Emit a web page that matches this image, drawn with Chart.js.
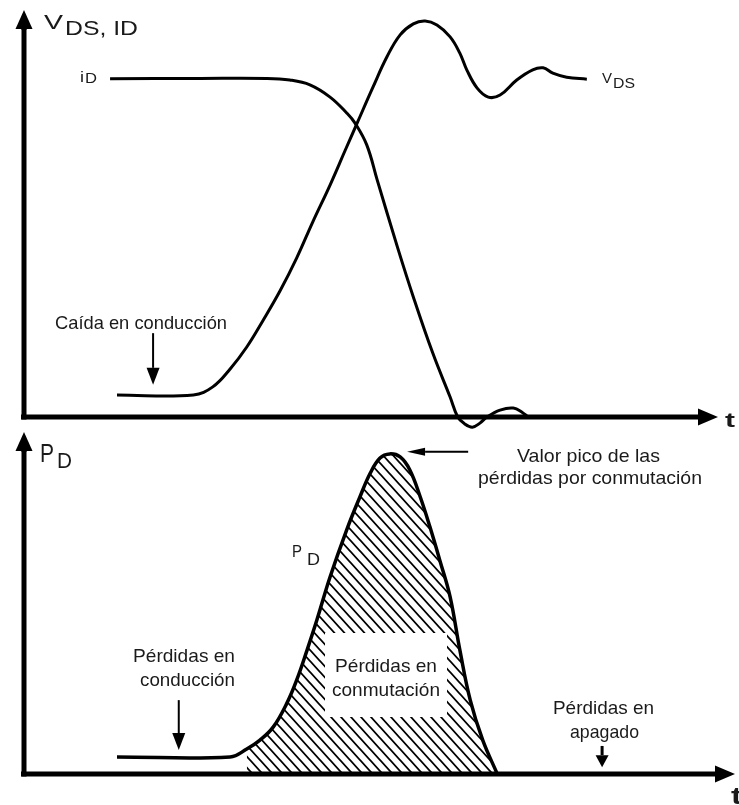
<!DOCTYPE html>
<html><head><meta charset="utf-8">
<script src="https://cdn.jsdelivr.net/npm/chart.js@4.4.1/dist/chart.umd.min.js"></script>
<style>
html,body{margin:0;padding:0;background:#fff;width:739px;height:805px;overflow:hidden}
#c1{position:absolute;left:0;top:0}
#c2{position:absolute;left:0;top:430px}
</style></head>
<body>
<canvas id="c1" width="739" height="430"></canvas>
<canvas id="c2" width="739" height="375"></canvas>
<script>
// ---------- data (time in arbitrary units, amplitudes in % of panel height) ----------
const idTime  = [12.4,25.4,35.0,38.3,41.2,44.1,46.5,47.7,49.4,50.9,53.8,56.1,58.9,61.4,62.5,63.5,64.6,65.7,66.7,68.6,70.5,71.9,72.5];
const idValue = [83.1,83.2,83.2,82.8,81.6,78.6,74.7,72.2,66.8,58.2,41.8,29.5,15.7,4.9,0,-1.7,-2.5,-1.5,0,1.7,2.2,1.0,0.2];

const vdsTime  = [13.4,24.4,27.2,29.7,32.1,34.4,36.9,39.3,41.6,44.1,46.3,48.0,50.3,52.3,54.2,56.1,57.8,59.5,61.4,62.8,63.8,65.3,66.9,68.6,71.0,73.3,74.8,76.2,78.2,81.1];
const vdsValue = [5.4,5.4,7.4,11.8,17.2,23.6,31.0,39.1,47.9,57.0,65.6,72.2,81.1,88.5,93.9,96.6,97.3,96.3,93.4,89.4,85.3,80.8,78.6,79.1,82.8,85.3,85.8,84.5,83.5,83.0];

const pdTime  = [13.4,29.7,32.1,34.0,35.9,37.9,39.3,40.8,42.2,44.1,46.5,48.4,49.9,51.3,52.7,54.2,55.6,57.1,58.5,59.9,61.4,62.8,64.3,66.1,68.2];
const pdValue = [5.0,5.0,7.3,9.9,13.7,20.8,27.5,36.3,45.0,57.6,71.4,81.0,88.0,92.4,93.6,92.7,88.9,81.0,72.2,62.6,51.8,36.3,21.6,9.9,0];

const switchStart = 32.1;   // start of the switching-loss (hatched) interval

const pts = (xs, ys) => xs.map((x, i) => ({x, y: ys[i]}));
const idData = pts(idTime, idValue);
const vdsData = pts(vdsTime, vdsValue);
const pdData = pts(pdTime, pdValue);
const pdSwitch = pdData.filter(p => p.x >= switchStart);

// ---------- helpers ----------
const FONT = '"Liberation Sans", Arial, sans-serif';
const TXT = '#1a1a1a';
function fitText(ctx, s, x, y, size, w, bold) {
  ctx.save();
  ctx.font = (bold ? 'bold ' : '') + size + 'px ' + FONT;
  ctx.textAlign = 'left'; ctx.textBaseline = 'alphabetic';
  ctx.fillStyle = TXT;
  const m = ctx.measureText(s).width;
  ctx.translate(x, y);
  ctx.scale(w / m, 1);
  ctx.fillText(s, 0, 0);
  ctx.restore();
}
function arrow(ctx, x1, y1, x2, y2, lw, hl, hw) {
  const a = Math.atan2(y2 - y1, x2 - x1);
  const bx = x2 - hl * Math.cos(a), by = y2 - hl * Math.sin(a);
  ctx.save();
  ctx.strokeStyle = '#000'; ctx.fillStyle = '#000'; ctx.lineWidth = lw; ctx.lineCap = 'butt';
  ctx.beginPath(); ctx.moveTo(x1, y1); ctx.lineTo(bx, by); ctx.stroke();
  ctx.beginPath();
  ctx.moveTo(x2, y2);
  ctx.lineTo(bx + hw / 2 * Math.sin(a), by - hw / 2 * Math.cos(a));
  ctx.lineTo(bx - hw / 2 * Math.sin(a), by + hw / 2 * Math.cos(a));
  ctx.closePath(); ctx.fill();
  ctx.restore();
}
function hatch() {
  const W = 10, H = 11;
  const c = document.createElement('canvas');
  c.width = W; c.height = H;
  const g = c.getContext('2d');
  g.strokeStyle = '#000'; g.lineWidth = 1.8;
  g.beginPath();
  g.moveTo(0, 0); g.lineTo(W, H);
  g.moveTo(-2, H - 2.2); g.lineTo(2, H + 2.2);
  g.moveTo(W - 2, -2.2); g.lineTo(W + 2, 2.2);
  g.stroke();
  return g.createPattern(c, 'repeat');
}

// decorations: axes with arrowheads, annotation arrows (data units), labels (page px)
function decoPlugin(cfg) {
  return {
    id: 'deco',
    afterDraw(chart) {
      const ctx = chart.ctx, xs = chart.scales.x, ys = chart.scales.y, ca = chart.chartArea;
      const x0 = xs.getPixelForValue(0), y0 = ys.getPixelForValue(0);
      ctx.save();
      ctx.strokeStyle = '#000'; ctx.lineWidth = 5;
      ctx.beginPath(); ctx.moveTo(x0 - 3, y0); ctx.lineTo(ca.right - 18, y0); ctx.stroke();
      ctx.beginPath(); ctx.moveTo(x0, y0 + 2.5); ctx.lineTo(x0, ca.top + 16); ctx.stroke();
      ctx.restore();
      arrow(ctx, ca.right - 20, y0, ca.right, y0, 5, 20, 17);
      arrow(ctx, x0, ca.top + 20, x0, ca.top, 5, 19, 17);
      (cfg.arrows || []).forEach(a => {
        arrow(ctx, xs.getPixelForValue(a.from[0]), ys.getPixelForValue(a.from[1]),
                   xs.getPixelForValue(a.to[0]), ys.getPixelForValue(a.to[1]), a.lw, a.head[0], a.head[1]);
      });
      (cfg.boxes || []).forEach(b => {
        ctx.save(); ctx.fillStyle = '#fff';
        ctx.fillRect(b.x, b.y - cfg.offset, b.w, b.h); ctx.restore();
      });
      (cfg.labels || []).forEach(l => fitText(ctx, l.s, l.x, l.y - cfg.offset, l.size, l.w, l.bold));
    }
  };
}

function baseOptions(padding, xmax) {
  return {
    responsive: false, animation: false,
    layout: {padding},
    plugins: {legend: {display: false}, tooltip: {enabled: false}},
    elements: {point: {radius: 0, hoverRadius: 0}, line: {tension: 0.4, capBezierPoints: false}},
    scales: {
      x: {type: 'linear', min: 0, max: xmax, display: false},
      y: {type: 'linear', min: 0, max: 100, display: false}
    }
  };
}

// ---------- top chart: V_DS and i_D ----------
new Chart(document.getElementById('c1'), {
  type: 'line',
  data: {
    datasets: [
      {label: 'iD', data: idData, borderColor: '#000', borderWidth: 3, fill: false, clip: false},
      {label: 'VDS', data: vdsData, borderColor: '#000', borderWidth: 3, fill: false, clip: false}
    ]
  },
  options: baseOptions({left: 24, right: 21, top: 10, bottom: 13}, 100),
  plugins: [decoPlugin({
    offset: 0,
    arrows: [{from: [18.6, 20.6], to: [18.6, 7.9], lw: 2, head: [17, 13]}],
    labels: [
      {s: 'V', x: 44, y: 29, size: 21, w: 19},
      {s: 'DS, ID', x: 65, y: 35, size: 21, w: 73},
      {s: 'i', x: 80, y: 82, size: 15, w: 4},
      {s: 'D', x: 85, y: 83, size: 15, w: 12},
      {s: 'V', x: 602, y: 83, size: 15, w: 10},
      {s: 'DS', x: 613, y: 88, size: 15, w: 22},
      {s: 't', x: 725, y: 427, size: 21, w: 10, bold: true},
      {s: 'Caída en conducción', x: 55, y: 329, size: 19, w: 172}
    ]
  })]
});

// ---------- bottom chart: P_D ----------
new Chart(document.getElementById('c2'), {
  type: 'line',
  data: {
    datasets: [
      {label: 'PD', data: pdData, borderColor: '#000', borderWidth: 3.5, fill: false, clip: false},
      {label: 'Pérdidas en conmutación', data: pdSwitch, borderWidth: 0, borderColor: 'rgba(0,0,0,0)', backgroundColor: hatch(), fill: 'origin'}
    ]
  },
  options: baseOptions({left: 24, right: 4, top: 2, bottom: 31}, 102.45),
  plugins: [decoPlugin({
    offset: 430,
    arrows: [
      {from: [22.3, 21.6], to: [22.3, 7.0], lw: 2, head: [17, 13]},
      {from: [83.3, 8.2], to: [83.3, 2.0], lw: 3, head: [12, 13]},
      {from: [64.0, 94.2], to: [55.2, 94.2], lw: 2, head: [18, 8]}
    ],
    boxes: [{x: 325, y: 633, w: 122, h: 84}],
    labels: [
      {s: 'P', x: 40, y: 462, size: 26, w: 14},
      {s: 'D', x: 57, y: 468, size: 22, w: 15},
      {s: 'P', x: 292, y: 557, size: 17, w: 10},
      {s: 'D', x: 307, y: 565, size: 17, w: 13},
      {s: 'Valor pico de las', x: 517, y: 462, size: 19, w: 143},
      {s: 'pérdidas por conmutación', x: 478, y: 484, size: 19, w: 224},
      {s: 'Pérdidas en', x: 335, y: 672, size: 19, w: 102},
      {s: 'conmutación', x: 332, y: 696, size: 19, w: 108},
      {s: 'Pérdidas en', x: 133, y: 662, size: 19, w: 102},
      {s: 'conducción', x: 140, y: 686, size: 19, w: 95},
      {s: 'Pérdidas en', x: 553, y: 714, size: 19, w: 101},
      {s: 'apagado', x: 570, y: 738, size: 19, w: 69},
      {s: 't', x: 731, y: 804, size: 24, w: 11, bold: true}
    ]
  })]
});
</script>
</body></html>
